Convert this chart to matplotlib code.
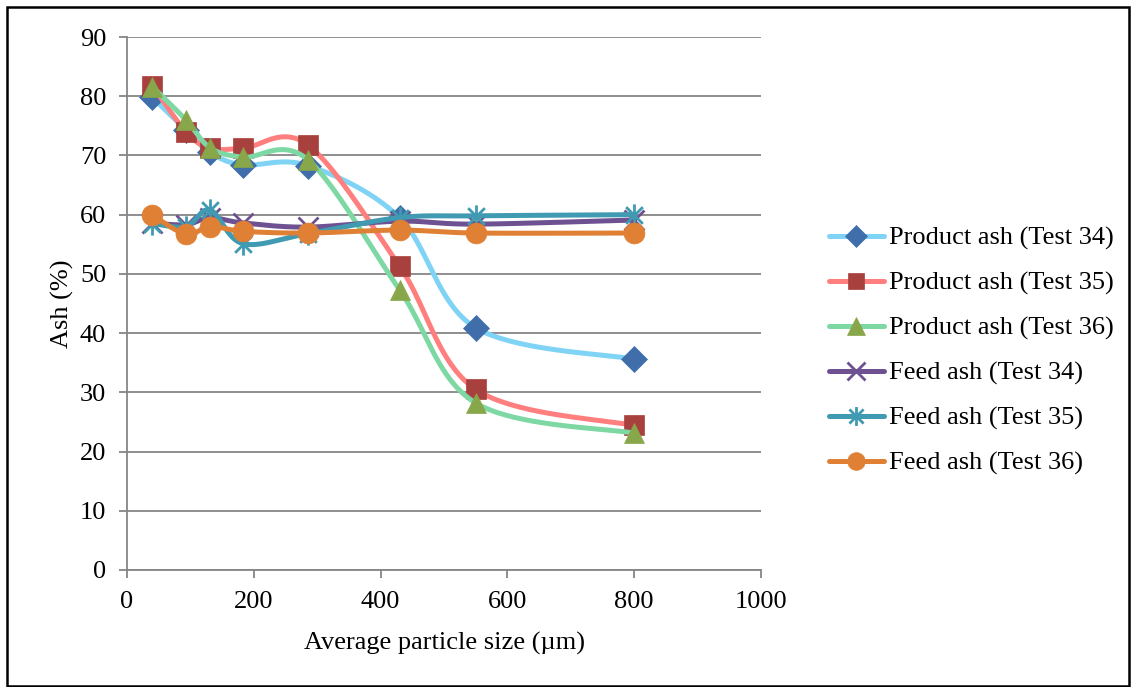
import numpy as np
import matplotlib
matplotlib.use("Agg")
import matplotlib.pyplot as plt
from matplotlib.lines import Line2D
from matplotlib.path import Path
from matplotlib.patches import Rectangle

# Average particle size (µm) for each size fraction
sizes = [40, 93, 131, 183, 285, 430, 550, 800]

# Ash content (%) per size fraction
product_34 = [79.8, 74.3, 70.5, 68.4, 68.3, 59.5, 40.9, 35.6]
product_35 = [81.8, 74.0, 71.2, 71.2, 71.8, 51.3, 30.5, 24.4]
product_36 = [81.6, 76.0, 71.3, 69.7, 69.3, 47.3, 28.2, 23.1]
feed_34 = [58.6, 58.3, 59.5, 58.6, 57.9, 58.9, 58.4, 59.1]
feed_35 = [58.5, 58.0, 60.8, 55.1, 56.8, 59.5, 59.8, 60.0]
feed_36 = [59.9, 56.7, 58.0, 57.2, 56.9, 57.4, 56.9, 56.9]

labels = ["Product ash (Test 34)", "Product ash (Test 35)", "Product ash (Test 36)",
          "Feed ash (Test 34)", "Feed ash (Test 35)", "Feed ash (Test 36)"]

x_ticks = [0, 200, 400, 600, 800, 1000]
y_ticks = [0, 10, 20, 30, 40, 50, 60, 70, 80, 90]

# asterisk marker: vertical stroke plus an X
asterisk = Path([(0, -1), (0, 1), (-0.75, -0.75), (0.75, 0.75), (-0.75, 0.75), (0.75, -0.75)],
                [Path.MOVETO, Path.LINETO, Path.MOVETO, Path.LINETO, Path.MOVETO, Path.LINETO])

styles = [
    dict(line="#7FD3F5", face="#3F6EAA", marker="D", ms=13, mew=0.5),
    dict(line="#FF7F7F", face="#A8403E", marker="s", ms=14, mew=0.5),
    dict(line="#7ED8A4", face="#88A64A", marker="^", ms=15, mew=0.5),
    dict(line="#6E5190", face="#6E5190", marker="x", ms=15, mew=2.0),
    dict(line="#3F9AB2", face="#3F9AB2", marker=asterisk, ms=16, mew=2.0),
    dict(line="#DF8035", face="#DF8035", marker="o", ms=15, mew=0.5),
]


def smooth(xs, ys, n=40):
    """Cardinal (Catmull-Rom) Bezier smoothing through the points."""
    p = np.column_stack([xs, ys]).astype(float)
    ext = np.vstack([p[0], p, p[-1]])
    out = []
    t = np.linspace(0, 1, n)[:, None]
    for i in range(len(p) - 1):
        p0, p1, p2, p3 = ext[i], ext[i + 1], ext[i + 2], ext[i + 3]
        c1 = p1 + (p2 - p0) / 6.0
        c2 = p2 - (p3 - p1) / 6.0
        seg = ((1 - t) ** 3) * p1 + 3 * ((1 - t) ** 2) * t * c1 + 3 * (1 - t) * t ** 2 * c2 + t ** 3 * p2
        out.append(seg if i == 0 else seg[1:])
    seg = np.vstack(out)
    return seg[:, 0], seg[:, 1]


plt.rcParams["font.family"] = ["Liberation Serif", "DejaVu Serif"]

W, H = 1137, 687
FS = 19
fig = plt.figure(figsize=(W / 100, H / 100), dpi=100)
ax = fig.add_axes([127 / W, 1 - 570 / H, (761 - 127) / W, (570 - 37) / H])

series = [product_34, product_35, product_36, feed_34, feed_35, feed_36]
handles = []
for vals, st, lab in zip(series, styles, labels):
    sx, sy = smooth(sizes, vals)
    ax.plot(sx, sy, color=st["line"], lw=3.6, solid_capstyle="round", zorder=3)
    ax.plot(sizes, vals, linestyle="none", marker=st["marker"], ms=st["ms"],
            markerfacecolor=st["face"], markeredgecolor=st["face"],
            markeredgewidth=st["mew"], zorder=3)
    handles.append(Line2D([0], [0], color=st["line"], lw=3.6, solid_capstyle="round",
                          marker=st["marker"], ms=st["ms"] * 0.85, markerfacecolor=st["face"],
                          markeredgecolor=st["face"], markeredgewidth=st["mew"]))

ax.set_xlim(0, 1000)
ax.set_ylim(0, 90)
ax.set_xticks(x_ticks)
ax.set_yticks(y_ticks)
ax.grid(axis="y", color="#868686", lw=1.3)
ax.set_axisbelow(True)
for s in ("top", "right"):
    ax.spines[s].set_visible(False)
for s in ("left", "bottom"):
    ax.spines[s].set_color("#868686")
    ax.spines[s].set_linewidth(1.3)
ax.tick_params(axis="both", colors="#868686", width=1.3, length=6, labelsize=FS,
               labelcolor="black")
ax.tick_params(axis="y", pad=9)
ax.tick_params(axis="x", pad=9)
ax.set_xlabel("Average particle size (µm)", fontsize=FS, labelpad=14)
ax.set_ylabel("Ash (%)", fontsize=FS, labelpad=4)

leg = fig.legend(handles, labels, loc="upper left", bbox_to_anchor=(818 / W, 1 - 216 / H),
                 frameon=False, fontsize=FS, handlelength=2.1, handletextpad=0.18,
                 labelspacing=0.8, borderaxespad=0)

fig.patches.append(Rectangle((7 / W, 1 - 686 / H), (1129 - 7) / W, (686 - 7) / H,
                             transform=fig.transFigure, fill=False, edgecolor="black",
                             lw=1.8, zorder=10))

fig.savefig("out.png", dpi=100)
